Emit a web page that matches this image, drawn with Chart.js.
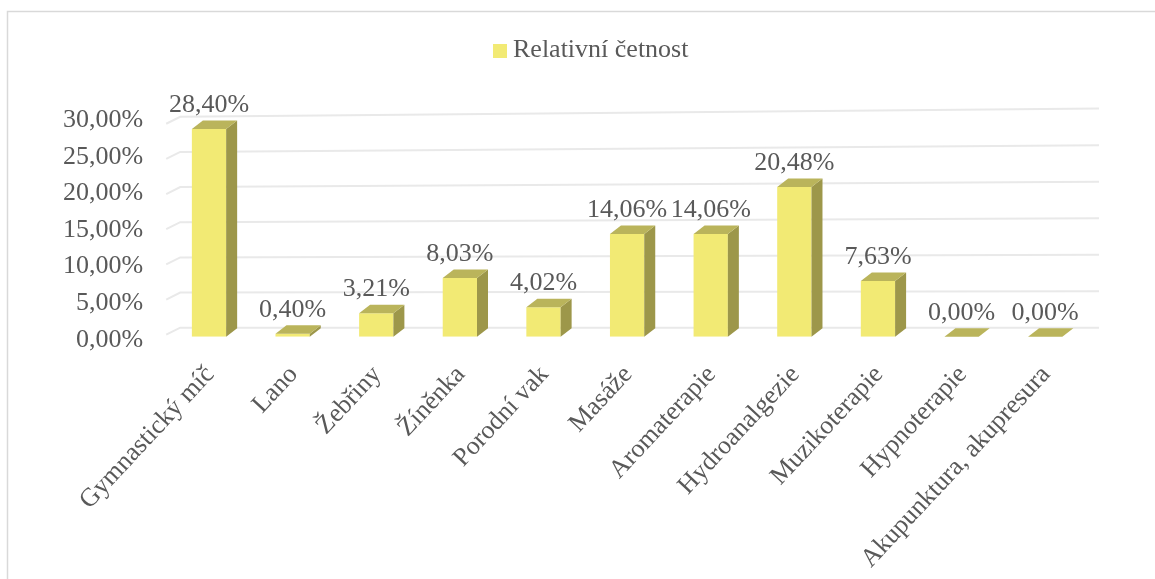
<!DOCTYPE html>
<html>
<head>
<meta charset="utf-8">
<script src="https://cdn.jsdelivr.net/npm/chart.js@4/dist/chart.umd.min.js"></script>
<style>
  html, body { margin: 0; padding: 0; background: #ffffff; }
  #wrap { width: 1155px; height: 579px; position: relative; overflow: hidden; }
  #chart { position: absolute; left: 0; top: 0; }
  #legend { position: absolute; left: 0; top: 0; margin: 0; padding: 0; list-style: none;
            font-family: 'Liberation Serif', 'Times New Roman', Times, serif; font-size: 26px; color: #595959; }
  #legend li { position: absolute; white-space: nowrap; }
  #legend .swatch { position: absolute; left: 0; top: 8px; width: 14px; height: 14px; }
  #legend .name { position: absolute; left: 20px; top: 0; line-height: 26px; }
</style>
</head>
<body>
<div id="wrap">
  <canvas id="chart" width="1155" height="579"></canvas>
  <ul id="legend"></ul>
</div>
<script>
// Categories and values (percent)
const categories = [
  'Gymnastický míč', 'Lano', 'Žebřiny', 'Žíněnka', 'Porodní vak', 'Masáže',
  'Aromaterapie', 'Hydroanalgezie', 'Muzikoterapie', 'Hypnoterapie', 'Akupunktura, akupresura'
];
const relativeShare = [28.40, 0.40, 3.21, 8.03, 4.02, 14.06, 14.06, 20.48, 7.63, 0.00, 0.00];
const seriesName = 'Relativní četnost';
const yTickValues = [0, 5, 10, 15, 20, 25, 30];

const FONT = "'Liberation Serif', 'Times New Roman', Times, serif";
const TEXT = '#595959';
const FRONT = '#f2ea74';
const SIDE = '#9d974a';
const TOP = '#bab45b';
const GRID = '#e9e9e9';

// depth of each column's box (right / up)
const DEPTH_X = 11;
const DEPTH_Y = -8.5;

const pct = v => v.toFixed(2).replace('.', ',') + '%';

const columns3d = {
  id: 'columns3d',
  beforeDraw(chart) {
    const ctx = chart.ctx;
    ctx.save();
    ctx.strokeStyle = '#d9d9d9';
    ctx.lineWidth = 1.5;
    ctx.strokeRect(7.5, 11.5, 3000, 3000);
    ctx.restore();
  },
  beforeDatasetsDraw(chart) {
    // back wall gridlines with a slight perspective, plus the side-wall edge
    const ctx = chart.ctx;
    const { left, right, bottom } = chart.chartArea;
    const y = chart.scales.y;
    const wallL = left + 13, wallR = right + 12, wallBase = bottom - 9;
    ctx.save();
    ctx.strokeStyle = GRID;
    ctx.lineWidth = 2;
    yTickValues.forEach(v => {
      const d = bottom - y.getPixelForValue(v);
      const yl = wallBase - d * 0.962;
      const yr = wallBase - d * 0.999;
      ctx.beginPath();
      ctx.moveTo(left - 1, yl + 7);
      ctx.lineTo(wallL, yl);
      ctx.lineTo(wallR, yr);
      ctx.stroke();
    });
    ctx.restore();
  },
  afterDatasetsDraw(chart) {
    const ctx = chart.ctx;
    const meta = chart.getDatasetMeta(0);
    const values = chart.data.datasets[0].data;
    ctx.save();
    meta.data.forEach(bar => {
      const { x, y, base, width } = bar.getProps(['x', 'y', 'base', 'width'], true);
      const L = x - width / 2, R = x + width / 2;
      // side face
      ctx.fillStyle = SIDE;
      ctx.beginPath();
      ctx.moveTo(R, y);
      ctx.lineTo(R + DEPTH_X, y + DEPTH_Y);
      ctx.lineTo(R + DEPTH_X, base + DEPTH_Y);
      ctx.lineTo(R, base);
      ctx.closePath();
      ctx.fill();
      // top face
      ctx.fillStyle = TOP;
      ctx.beginPath();
      ctx.moveTo(L, y);
      ctx.lineTo(R, y);
      ctx.lineTo(R + DEPTH_X, y + DEPTH_Y);
      ctx.lineTo(L + DEPTH_X, y + DEPTH_Y);
      ctx.closePath();
      ctx.fill();
    });
    // value labels above each column
    ctx.fillStyle = TEXT;
    ctx.font = '26px ' + FONT;
    ctx.textAlign = 'center';
    ctx.textBaseline = 'alphabetic';
    meta.data.forEach((bar, i) => {
      const { x, y } = bar.getProps(['x', 'y'], true);
      ctx.fillText(pct(values[i]), x, y + DEPTH_Y - 8.5);
    });
    ctx.restore();
  }
};

const chart = new Chart(document.getElementById('chart'), {
  type: 'bar',
  data: {
    labels: categories,
    datasets: [{
      label: seriesName,
      data: relativeShare,
      backgroundColor: FRONT,
      borderWidth: 0,
      barPercentage: 0.41,
      categoryPercentage: 1.0
    }]
  },
  options: {
    responsive: false,
    animation: false,
    devicePixelRatio: 1,
    layout: { padding: { top: 117.4, left: 0, right: 68, bottom: 0 } },
    plugins: {
      legend: { display: false },
      tooltip: { enabled: false }
    },
    scales: {
      x: {
        grid: { display: false, drawTicks: false },
        border: { display: false },
        ticks: {
          font: { family: FONT, size: 26 },
          color: TEXT,
          autoSkip: false,
          maxRotation: 47,
          minRotation: 47,
          padding: 23,
          labelOffset: 1
        },
        afterFit(scale) { scale.height = 242.3; }
      },
      y: {
        min: 0,
        max: 30,
        grid: { display: false, drawTicks: false },
        border: { display: false },
        afterBuildTicks(scale) { scale.ticks = yTickValues.map(v => ({ value: v })); },
        ticks: {
          font: { family: FONT, size: 26 },
          color: TEXT,
          padding: 24,
          labelOffset: 3,
          callback: v => pct(v)
        },
        afterFit(scale) { scale.width = 167.2; }
      }
    }
  },
  plugins: [columns3d]
});

// HTML legend built from the chart's datasets
const legendList = document.getElementById('legend');
chart.data.datasets.forEach(ds => {
  const li = document.createElement('li');
  li.style.left = '493px';
  li.style.top = '36px';
  const sw = document.createElement('span');
  sw.className = 'swatch';
  sw.style.background = ds.backgroundColor;
  const name = document.createElement('span');
  name.className = 'name';
  name.textContent = ds.label;
  li.appendChild(sw);
  li.appendChild(name);
  legendList.appendChild(li);
});
</script>
</body>
</html>
